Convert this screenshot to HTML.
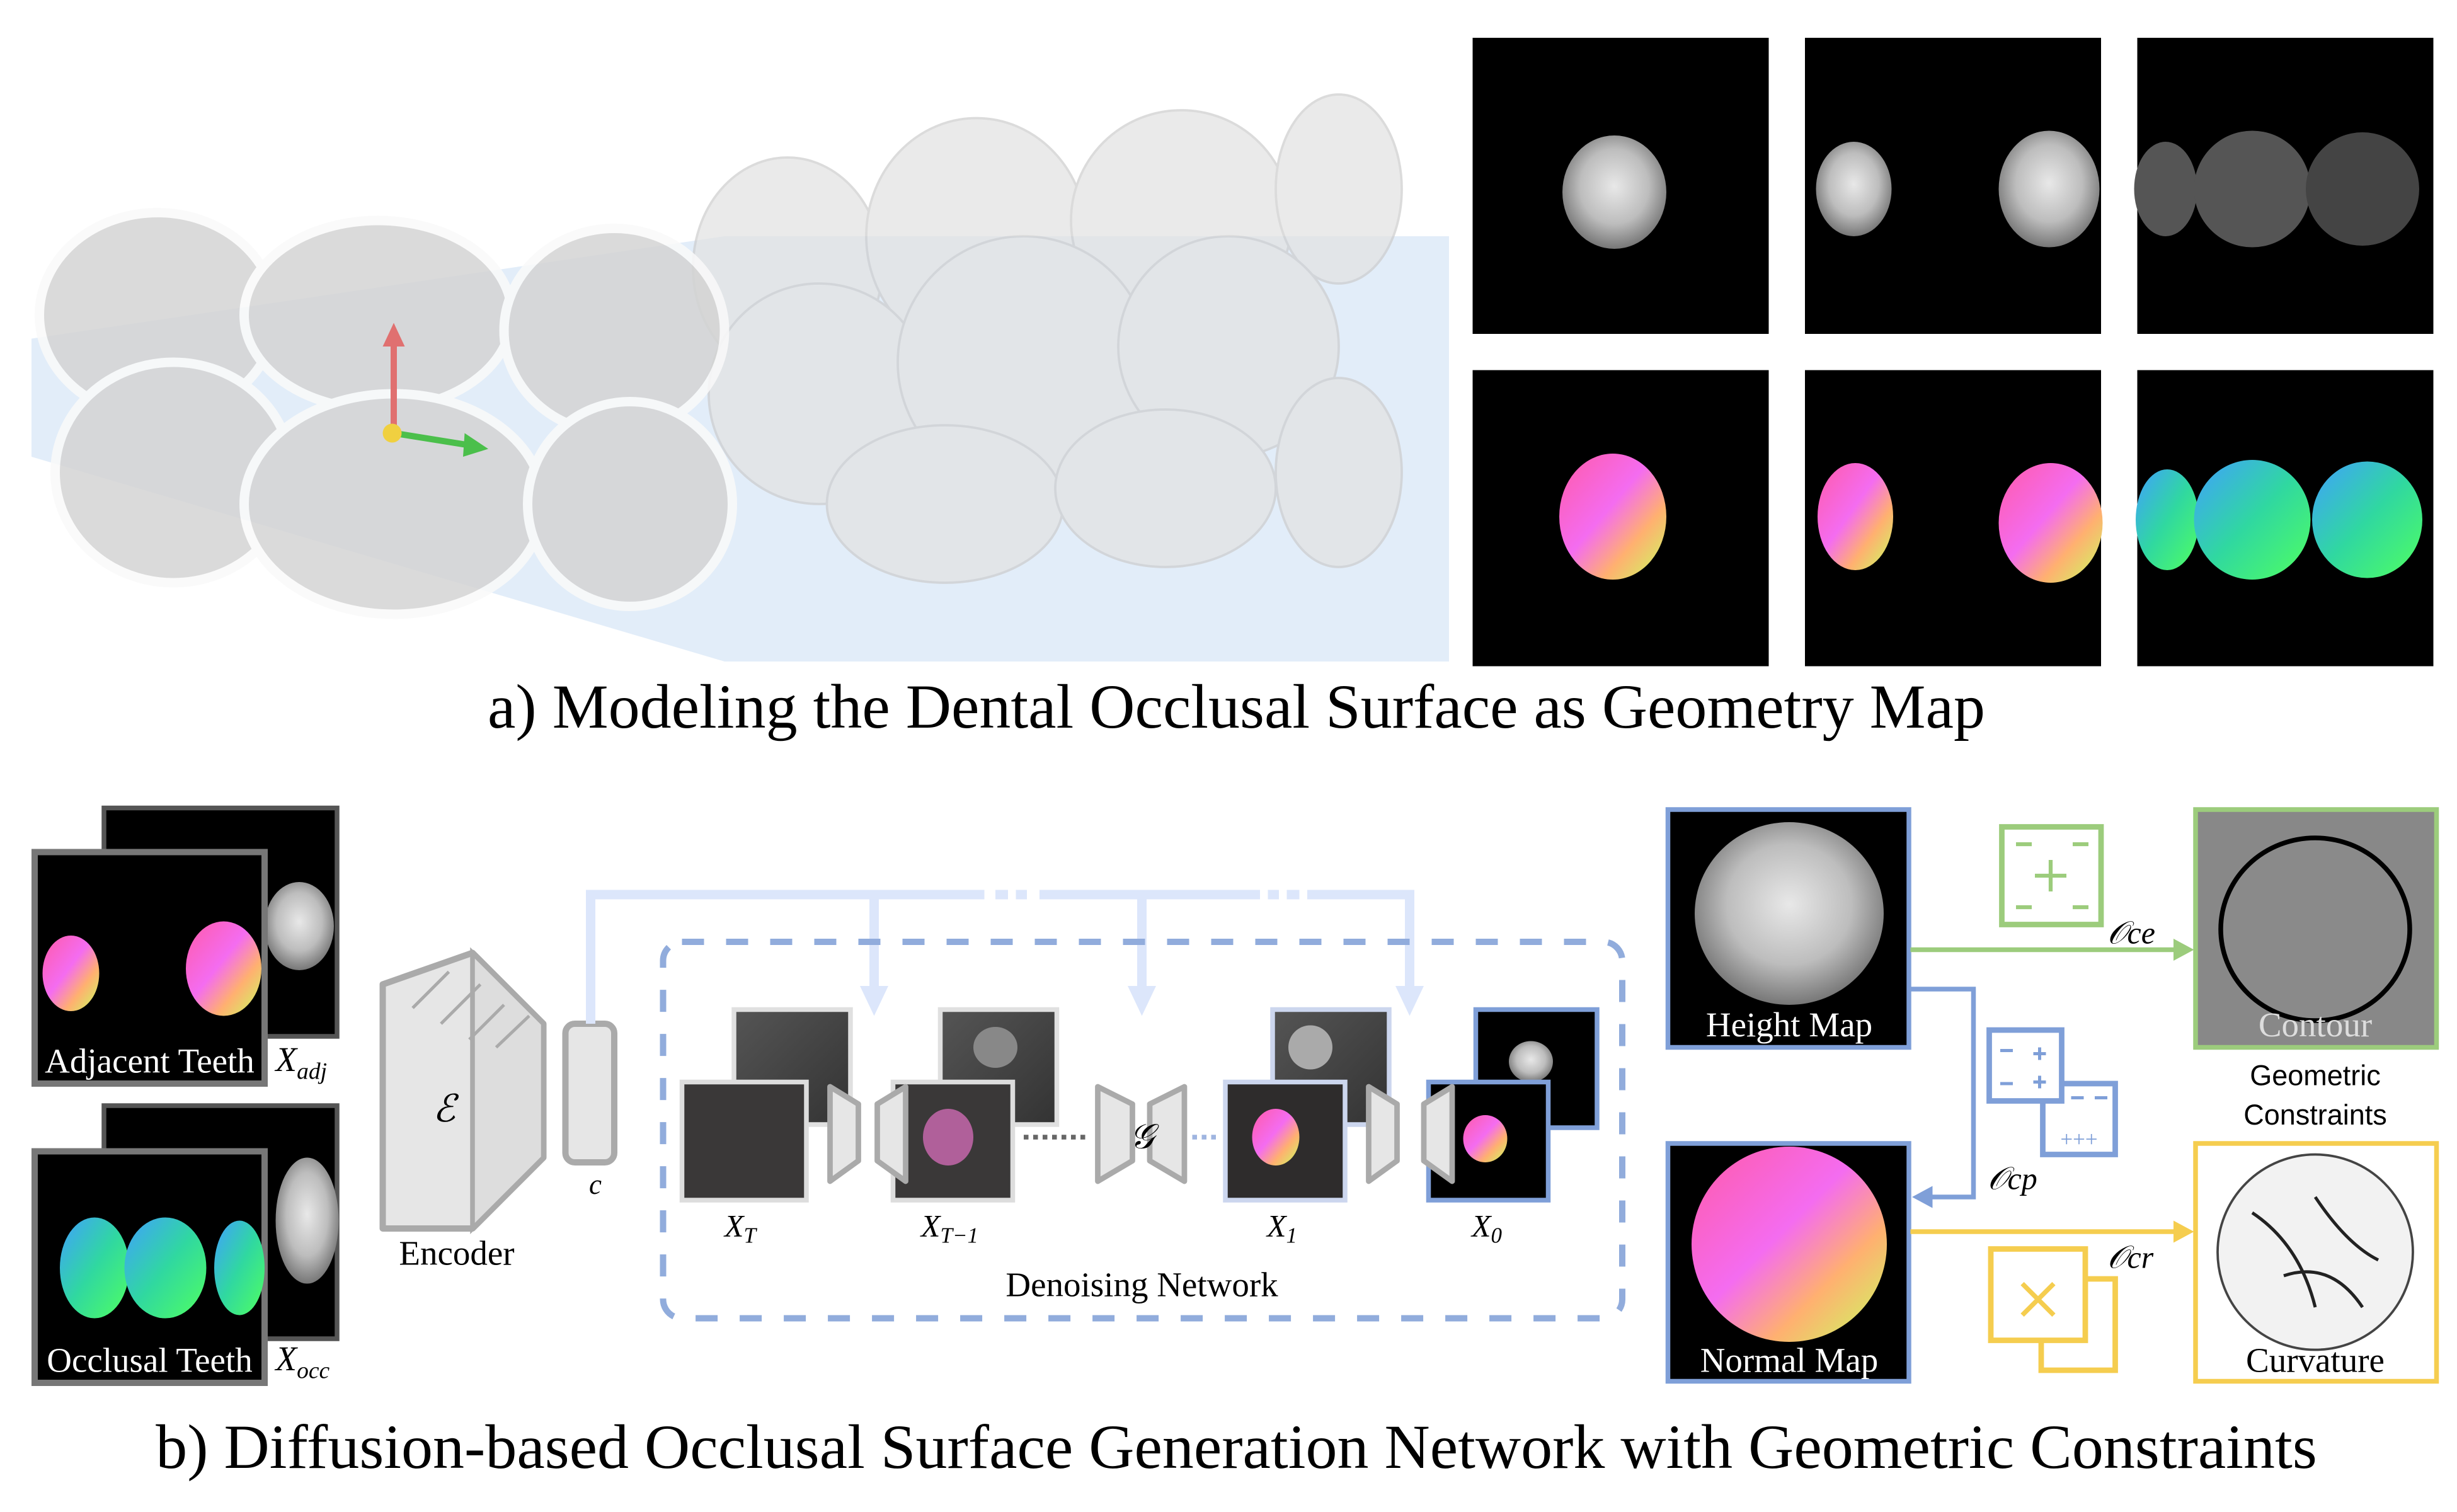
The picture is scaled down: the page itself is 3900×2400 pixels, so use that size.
<!DOCTYPE html>
<html><head><meta charset="utf-8"><style>html,body{margin:0;padding:0;background:#fff}svg{display:block}</style></head><body>
<svg width="3900" height="2400" viewBox="0 0 1560 960" xmlns="http://www.w3.org/2000/svg" font-family="Liberation Serif, serif">
<defs>
<radialGradient id="gr" cx="50%" cy="45%" r="55%"><stop offset="0" stop-color="#e8e8e8"/><stop offset="0.6" stop-color="#bdbdbd"/><stop offset="1" stop-color="#777"/></radialGradient>
<linearGradient id="cn" x1="0" y1="0" x2="1" y2="1"><stop offset="0" stop-color="#ff5aa8"/><stop offset="0.45" stop-color="#f46cf0"/><stop offset="0.7" stop-color="#ffb070"/><stop offset="1" stop-color="#c8ff60"/></linearGradient>
<linearGradient id="cg" x1="0" y1="0" x2="1" y2="1"><stop offset="0" stop-color="#40a0ff"/><stop offset="0.5" stop-color="#30d8a0"/><stop offset="1" stop-color="#50ff60"/></linearGradient>
<linearGradient id="nz" x1="0" y1="0" x2="1" y2="1"><stop offset="0" stop-color="#555"/><stop offset="1" stop-color="#333"/></linearGradient>
</defs>
<rect width="1560" height="960" fill="#fff"/>
<!-- 3D teeth -->
<polygon points="20,215 460,150 920,150 920,420 460,420 20,290" fill="#dbe8f8" opacity="0.8"/>
<g fill="#e2e2e2" stroke="#ccc" stroke-width="1.5" opacity="0.7">
<ellipse cx="500" cy="170" rx="60" ry="70"/><ellipse cx="620" cy="150" rx="70" ry="75"/><ellipse cx="750" cy="140" rx="70" ry="70"/><ellipse cx="850" cy="120" rx="40" ry="60"/>
<ellipse cx="520" cy="250" rx="70" ry="70"/><ellipse cx="650" cy="230" rx="80" ry="80"/><ellipse cx="780" cy="220" rx="70" ry="70"/>
<ellipse cx="600" cy="320" rx="75" ry="50"/><ellipse cx="740" cy="310" rx="70" ry="50"/><ellipse cx="850" cy="300" rx="40" ry="60"/>
</g>
<g fill="#d4d4d4" stroke="#fafafa" stroke-width="6" opacity="0.85">
<ellipse cx="100" cy="200" rx="75" ry="65"/><ellipse cx="240" cy="200" rx="85" ry="60"/><ellipse cx="390" cy="210" rx="70" ry="65"/>
<ellipse cx="110" cy="300" rx="75" ry="70"/><ellipse cx="250" cy="320" rx="95" ry="70"/><ellipse cx="400" cy="320" rx="65" ry="65"/>
</g>
<line x1="250" y1="270" x2="250" y2="215" stroke="#e07070" stroke-width="4"/><polygon points="243,220 257,220 250,205" fill="#e07070"/>
<line x1="250" y1="275" x2="300" y2="283" stroke="#4bbf4b" stroke-width="4"/><polygon points="295,275 310,285 294,290" fill="#4bbf4b"/>
<circle cx="249" cy="275" r="6" fill="#f0d040"/>
<!-- six panels -->
<g fill="#000"><rect x="935" y="24" width="188" height="188"/><rect x="1146" y="24" width="188" height="188"/><rect x="1357" y="24" width="188" height="188"/>
<rect x="935" y="235" width="188" height="188"/><rect x="1146" y="235" width="188" height="188"/><rect x="1357" y="235" width="188" height="188"/></g>
<ellipse cx="1025" cy="122" rx="33" ry="36" fill="url(#gr)"/>
<ellipse cx="1177" cy="120" rx="24" ry="30" fill="url(#gr)"/><ellipse cx="1301" cy="120" rx="32" ry="37" fill="url(#gr)"/>
<ellipse cx="1375" cy="120" rx="20" ry="30" fill="#555"/><ellipse cx="1430" cy="120" rx="37" ry="37" fill="#555"/><ellipse cx="1500" cy="120" rx="36" ry="36" fill="#444"/>
<ellipse cx="1024" cy="328" rx="34" ry="40" fill="url(#cn)"/>
<ellipse cx="1178" cy="328" rx="24" ry="34" fill="url(#cn)"/><ellipse cx="1302" cy="332" rx="33" ry="38" fill="url(#cn)"/>
<ellipse cx="1376" cy="330" rx="20" ry="32" fill="url(#cg)"/><ellipse cx="1430" cy="330" rx="37" ry="38" fill="url(#cg)"/><ellipse cx="1503" cy="330" rx="35" ry="37" fill="url(#cg)"/>
<text x="785" y="462" font-size="40" text-anchor="middle">a) Modeling the Dental Occlusal Surface as Geometry Map</text>
<!-- left stacks -->
<rect x="66" y="513" width="148" height="145" fill="#000" stroke="#555" stroke-width="3"/>
<ellipse cx="190" cy="588" rx="22" ry="28" fill="url(#gr)"/>
<rect x="22" y="541" width="146" height="147" fill="#000" stroke="#777" stroke-width="4"/>
<ellipse cx="45" cy="618" rx="18" ry="24" fill="url(#cn)"/><ellipse cx="142" cy="615" rx="24" ry="30" fill="url(#cn)"/>
<text x="95" y="681" font-size="22" fill="#fff" text-anchor="middle">Adjacent Teeth</text>
<text x="175" y="680" font-size="22" font-style="italic">X<tspan font-size="15" dy="5">adj</tspan></text>
<rect x="66" y="702" width="148" height="148" fill="#000" stroke="#555" stroke-width="3"/>
<ellipse cx="195" cy="775" rx="20" ry="40" fill="url(#gr)"/>
<rect x="22" y="731" width="146" height="147" fill="#000" stroke="#777" stroke-width="4"/>
<ellipse cx="60" cy="805" rx="22" ry="32" fill="url(#cg)"/><ellipse cx="105" cy="805" rx="26" ry="32" fill="url(#cg)"/><ellipse cx="152" cy="805" rx="16" ry="30" fill="url(#cg)"/>
<text x="95" y="871" font-size="22" fill="#fff" text-anchor="middle">Occlusal Teeth</text>
<text x="175" y="870" font-size="22" font-style="italic">X<tspan font-size="15" dy="5">occ</tspan></text>
<!-- encoder -->
<polygon points="243,625 300,605 345,650 345,735 300,780 243,780" fill="#e6e6e6" stroke="#aaa" stroke-width="4" stroke-linejoin="round"/>
<polygon points="300,605 345,650 345,735 300,780" fill="#ddd" stroke="#aaa" stroke-width="3"/>
<g stroke="#aaa" stroke-width="2"><line x1="262" y1="640" x2="285" y2="617"/><line x1="280" y1="650" x2="305" y2="625"/><line x1="298" y1="660" x2="320" y2="638"/><line x1="315" y1="665" x2="336" y2="645"/></g>
<text x="282" y="712" font-size="24" font-style="italic" text-anchor="middle">ℰ</text>
<text x="290" y="803" font-size="22" text-anchor="middle">Encoder</text>
<rect x="359" y="650" width="31" height="88" rx="6" fill="#e6e6e6" stroke="#aaa" stroke-width="4"/>
<text x="378" y="758" font-size="18" font-style="italic" text-anchor="middle">c</text>
<!-- conditioning lines -->
<g stroke="#dce6fb" stroke-width="6" fill="none">
<polyline points="375,650 375,568 625,568"/><line x1="632" y1="568" x2="640" y2="568"/><line x1="645" y1="568" x2="652" y2="568"/>
<line x1="660" y1="568" x2="800" y2="568"/><line x1="805" y1="568" x2="812" y2="568"/><line x1="817" y1="568" x2="825" y2="568"/>
<polyline points="830,568 895,568 895,630"/><line x1="555" y1="568" x2="555" y2="630"/><line x1="725" y1="568" x2="725" y2="630"/>
</g>
<g fill="#dce6fb"><polygon points="546,626 564,626 555,645"/><polygon points="716,626 734,626 725,645"/><polygon points="886,626 904,626 895,645"/></g>
<rect x="421" y="598" width="609" height="239" rx="12" fill="none" stroke="#91acdc" stroke-width="4" stroke-dasharray="14,14"/>
<!-- noise images -->
<rect x="466" y="641" width="74" height="73" fill="url(#nz)" stroke="#e0e0e0" stroke-width="3"/>
<rect x="433" y="687" width="79" height="75" fill="#3a3838" stroke="#ddd" stroke-width="3"/>
<rect x="597" y="641" width="74" height="73" fill="url(#nz)" stroke="#e0e0e0" stroke-width="3"/>
<ellipse cx="632" cy="665" rx="14" ry="13" fill="#888"/>
<rect x="567" y="687" width="76" height="75" fill="#3a3838" stroke="#ddd" stroke-width="3"/>
<ellipse cx="602" cy="722" rx="16" ry="18" fill="#b0609a"/>
<rect x="808" y="641" width="74" height="73" fill="url(#nz)" stroke="#ccd6ee" stroke-width="3"/>
<ellipse cx="832" cy="665" rx="14" ry="14" fill="#aaa"/>
<rect x="778" y="687" width="76" height="75" fill="#2e2c2c" stroke="#ccd6ee" stroke-width="3"/>
<ellipse cx="810" cy="722" rx="15" ry="18" fill="url(#cn)"/>
<rect x="937" y="641" width="77" height="75" fill="#000" stroke="#7f9fd8" stroke-width="3"/>
<ellipse cx="972" cy="674" rx="14" ry="13" fill="url(#gr)"/>
<rect x="907" y="687" width="76" height="75" fill="#000" stroke="#7f9fd8" stroke-width="3"/>
<ellipse cx="943" cy="723" rx="14" ry="15" fill="url(#cn)"/>
<!-- unets -->
<g fill="#e6e6e6" stroke="#aaa" stroke-width="3.5" stroke-linejoin="round">
<polygon points="527,690 545,701 545,737 527,750"/><polygon points="575,690 557,701 557,737 575,750"/>
<polygon points="697,690 719,701 719,737 697,750"/><polygon points="752,690 730,701 730,737 752,750"/>
<polygon points="869,690 887,701 887,737 869,750"/><polygon points="922,690 904,701 904,737 922,750"/>
</g>
<line x1="650" y1="722" x2="692" y2="722" stroke="#666" stroke-width="3" stroke-dasharray="3,3"/>
<line x1="757" y1="722" x2="775" y2="722" stroke="#9fb5e0" stroke-width="3" stroke-dasharray="3,3"/>
<text x="725" y="729" font-size="22" font-style="italic" text-anchor="middle">𝒢</text>
<g font-size="20" font-style="italic" text-anchor="middle">
<text x="470" y="785">X<tspan font-size="14" dy="4">T</tspan></text>
<text x="603" y="785">X<tspan font-size="14" dy="4">T−1</tspan></text>
<text x="814" y="785">X<tspan font-size="14" dy="4">1</tspan></text>
<text x="944" y="785">X<tspan font-size="14" dy="4">0</tspan></text>
</g>
<text x="725" y="823" font-size="22" text-anchor="middle">Denoising Network</text>
<!-- right side -->
<rect x="1059" y="514" width="153" height="151" fill="#000" stroke="#7f9fd8" stroke-width="3"/>
<ellipse cx="1136" cy="580" rx="60" ry="58" fill="url(#gr)"/>
<text x="1136" y="658" font-size="22" fill="#fff" text-anchor="middle">Height Map</text>
<rect x="1059" y="726" width="153" height="151" fill="#000" stroke="#7f9fd8" stroke-width="3"/>
<ellipse cx="1136" cy="790" rx="62" ry="62" fill="url(#cn)"/>
<text x="1136" y="871" font-size="22" fill="#fff" text-anchor="middle">Normal Map</text>
<rect x="1394" y="514" width="153" height="151" fill="#888" stroke="#9ccc7c" stroke-width="3"/>
<ellipse cx="1470" cy="590" rx="60" ry="58" fill="#8a8a8a" stroke="#000" stroke-width="3"/>
<text x="1470" y="658" font-size="22" fill="#ddd" text-anchor="middle">Contour</text>
<rect x="1394" y="726" width="153" height="151" fill="#fff" stroke="#f5cd4f" stroke-width="3"/>
<ellipse cx="1470" cy="795" rx="62" ry="62" fill="#f2f2f2" stroke="#444" stroke-width="1.5"/>
<path d="M1430,770 Q1460,790 1470,830 M1470,760 Q1490,790 1510,800 M1450,810 Q1480,800 1500,830" stroke="#222" stroke-width="2" fill="none"/>
<text x="1470" y="871" font-size="22" text-anchor="middle">Curvature</text>
<text x="1470" y="689" font-size="18" text-anchor="middle" font-family="Liberation Sans, sans-serif">Geometric</text>
<text x="1470" y="714" font-size="18" text-anchor="middle" font-family="Liberation Sans, sans-serif">Constraints</text>
<line x1="1213" y1="603" x2="1382" y2="603" stroke="#9ccc7c" stroke-width="3"/><polygon points="1380,596 1393,603 1380,610" fill="#9ccc7c"/>
<polyline points="1213,628 1253,628 1253,760 1225,760" stroke="#7f9fd8" stroke-width="3" fill="none"/><polygon points="1227,753 1214,760 1227,767" fill="#7f9fd8"/>
<line x1="1213" y1="782" x2="1382" y2="782" stroke="#f5cd4f" stroke-width="3"/><polygon points="1380,775 1393,782 1380,789" fill="#f5cd4f"/>
<rect x="1271" y="525" width="63" height="62" fill="#fff" stroke="#9ccc7c" stroke-width="3.5"/>
<path d="M1292,556h20M1302,546v20M1280,536h10M1316,536h10M1280,576h10M1316,576h10" stroke="#9ccc7c" stroke-width="2.5"/>
<rect x="1297" y="688" width="46" height="45" fill="#fff" stroke="#7f9fd8" stroke-width="3.5"/>
<rect x="1263" y="654" width="46" height="45" fill="#fff" stroke="#7f9fd8" stroke-width="3.5"/>
<text x="1320" y="728" font-size="14" fill="#7f9fd8" text-anchor="middle">+++</text>
<path d="M1270,667h8M1295,665v8M1291,669h8M1270,688h8M1295,683v8M1291,687h8M1315,697h8M1330,697h8" stroke="#7f9fd8" stroke-width="2"/>
<rect x="1296" y="812" width="47" height="58" fill="#fff" stroke="#f5cd4f" stroke-width="3.5"/>
<rect x="1264" y="793" width="60" height="58" fill="#fff" stroke="#f5cd4f" stroke-width="3.5"/>
<path d="M1284,815l20,20M1304,815l-20,20" stroke="#f5cd4f" stroke-width="3"/>
<g font-size="20" font-style="italic"><text x="1338" y="599">𝒪ce</text><text x="1262" y="755">𝒪cp</text><text x="1338" y="805">𝒪cr</text></g>
<text x="785" y="932" font-size="40" text-anchor="middle">b) Diffusion-based Occlusal Surface Generation Network with Geometric Constraints</text>
</svg>
</body></html>
